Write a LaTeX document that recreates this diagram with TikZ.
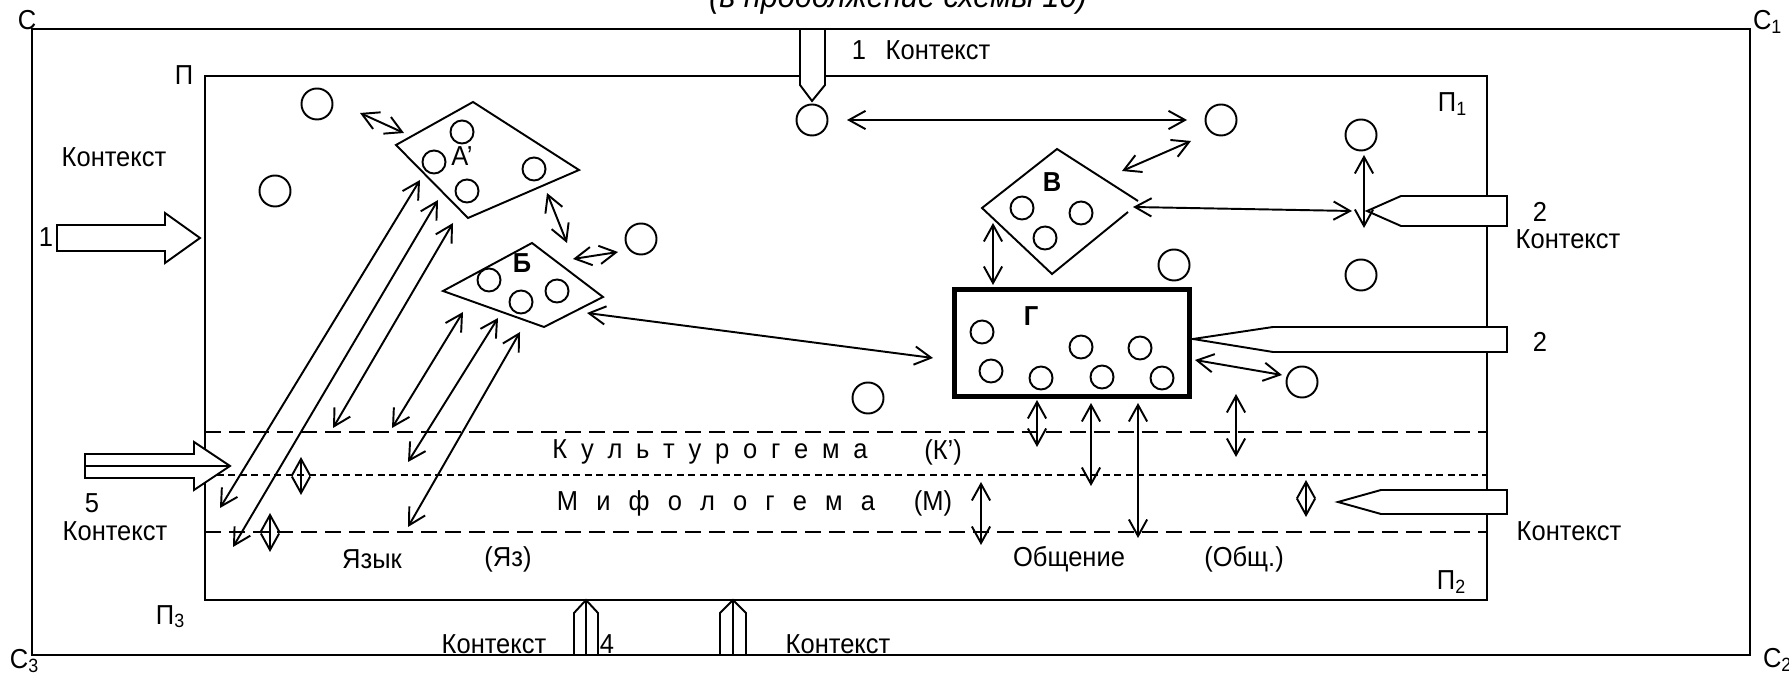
\documentclass[tikz,border=0pt]{standalone}
\usepackage{fontspec}
\setmainfont{Liberation Sans}[FakeStretch=0.93]
\usetikzlibrary{arrows.meta}

\tikzset{
  ring/.style={draw, circle, minimum size=0.31cm, inner sep=0pt},
  ringsm/.style={draw, circle, minimum size=0.23cm, inner sep=0pt},
  hollow/.style={draw, fill=white},
  lbl/.style={inner sep=0pt, font=\fontsize{7.8}{9.4}\selectfont},
  stratum/.style={dash pattern=on 0.16cm off 0.08cm},
  stratumsm/.style={dash pattern=on 0.07cm off 0.045cm},
}

\begin{document}
\begin{tikzpicture}[x=0.01cm, y=-0.01cm, line width=0.55pt,
  >={Straight Barb[length=4.7pt,width=5.2pt]}]
\useasboundingbox (0,0) rectangle (1789,674);

\node[lbl, font=\fontsize{9.4}{11}\selectfont\itshape, anchor=base] (title) at (898,8) {(в продолжение схемы 10)};

% frames С and П
\draw (32,29) rectangle (1750,655);
\draw (205,76) rectangle (1487,600);
\node[lbl, anchor=base west] (s0) at (17,30) {С};
\node[lbl, anchor=base west] (s1) at (1752,30) {С\textsubscript{1}};
\node[lbl, anchor=base west] (s2) at (1762,668) {С\textsubscript{2}};
\node[lbl, anchor=base west] (s3) at (9,669) {С\textsubscript{3}};
\node[lbl, anchor=base west] (p0) at (174,85) {П};
\node[lbl, anchor=base west] (p1) at (1437,112) {П\textsubscript{1}};
\node[lbl, anchor=base west] (p2) at (1436,590) {П\textsubscript{2}};
\node[lbl, anchor=base west] (p3) at (155,624) {П\textsubscript{3}};

% strata
\draw[stratum] (205,432) -- (1487,432);
\draw[stratumsm] (205,475) -- (1487,475);
\draw[stratum] (205,532) -- (1487,532);
\node[lbl] (kult) at (710,452) {\makebox[3.15cm][s]{К\hfill у\hfill л\hfill ь\hfill т\hfill у\hfill р\hfill о\hfill г\hfill е\hfill м\hfill а}};
\node[lbl] (kultk) at (943,452) {(К’)};
\node[lbl] (mif) at (716,503) {\makebox[3.18cm][s]{М\hfill и\hfill ф\hfill о\hfill л\hfill о\hfill г\hfill е\hfill м\hfill а}};
\node[lbl] (mifm) at (933,503) {(М)};
\node[lbl] (yaz) at (372,559) {Язык};
\node[lbl] (yazk) at (508,559) {(Яз)};
\node[lbl] (obsh) at (1069,559) {Общение};
\node[lbl] (obshk) at (1244,559) {(Общ.)};

% context arrows
\draw[hollow] (57,225) -- (165,225) -- (165,213) -- (200,238) -- (165,263) -- (165,251) -- (57,251) -- cycle;
\draw[hollow] (85,454) -- (194,454) -- (194,442) -- (230,466) -- (194,490) -- (194,478) -- (85,478) -- cycle;
\draw (85,466) -- (230,466);
\draw[hollow] (800,29) -- (800,85) -- (812,101) -- (825,85) -- (825,29) -- cycle;
\draw[hollow] (1507,196) -- (1401,196) -- (1367,211) -- (1401,226) -- (1507,226) -- cycle;
\draw[hollow] (1507,327) -- (1273,327) -- (1193,339) -- (1273,352) -- (1507,352) -- cycle;
\draw[hollow] (1507,490) -- (1381,490) -- (1338,502) -- (1381,514) -- (1507,514) -- cycle;
\draw[hollow] (574,655) -- (574,613) -- (586,600) -- (598,613) -- (598,655) -- cycle;
\draw (586,655) -- (586,600);
\draw[hollow] (720,655) -- (720,613) -- (733,600) -- (746,613) -- (746,655) -- cycle;
\draw (733,655) -- (733,600);

\node[lbl] (k1) at (114,157) {Контекст};
\node[lbl] (n1) at (46,237) {1};
\node[lbl] (n5) at (92,503) {5};
\node[lbl] (k5) at (115,531) {Контекст};
\node[lbl] (n1t) at (859,50) {1};
\node[lbl] (k1t) at (938,50) {Контекст};
\node[lbl] (n2) at (1540,212) {2};
\node[lbl] (k2) at (1568,239) {Контекст};
\node[lbl] (n2b) at (1540,342) {2};
\node[lbl] (k3) at (1569,531) {Контекст};
\node[lbl] (k4) at (494,644) {Контекст};
\node[lbl] (n4) at (607,644) {4};
\node[lbl] (k4b) at (838,644) {Контекст};

% groups
\draw (396,145) -- (473,102) -- (579,170) -- (468,218) -- cycle;
\draw (443,291) -- (532,243) -- (603,297) -- (544,327) -- cycle;
\draw (1138,201) -- (1057,149) -- (982,208) -- (1052,274) -- (1128,212);
\node[draw, line width=1.4pt, minimum width=2.35cm, minimum height=1.07cm, inner sep=0pt] (gam) at (1072,343) {};
\node[lbl] (la) at (462,156) {А’};
\node[lbl, font=\fontsize{7.8}{9.4}\selectfont\bfseries] (lb) at (522,263) {Б};
\node[lbl, font=\fontsize{7.8}{9.4}\selectfont\bfseries] (lv) at (1052,182) {В};
\node[lbl, font=\fontsize{7.8}{9.4}\selectfont\bfseries] (lg) at (1031,316) {Г};

\foreach \n/\x/\y in {c1/317/104, c2/275/191, c3/812/120, c4/1221/120, c5/1361/135,
  c6/641/239, c7/1174/265, c8/1361/275, c9/868/398, c10/1302/382}
  \node[ring] (\n) at (\x,\y) {};
\foreach \n/\x/\y in {a1/462/132, a2/434/162, a3/467/191, a4/534/169,
  b1/489/280, b2/521/302, b3/557/291, v1/1022/208, v2/1081/213, v3/1045/238,
  g1/982/332, g2/1081/347, g3/1140/348, g4/991/371, g5/1041/378, g6/1102/377, g7/1162/378}
  \node[ringsm] (\n) at (\x,\y) {};

% links
\foreach \n/\x/\y in {e1/360/113, f1/404/133, e2/547/193, f2/567/243, e3/573/259, f3/618/252,
  e4/587/313, f4/933/358, e5/847/120, f5/1187/120, e6/1122/171, f6/1191/141,
  e7/1133/207, f7/1352/211, e8/1364/155, f8/1364/228, e9/993/223, f9/993/285,
  e10/1195/360, f10/1282/375, e11/1037/400, f11/1037/447, e12/1091/403, f12/1091/486,
  e13/1138/403, f13/1138/538, e14/981/482, f14/981/545, e15/1236/394, f15/1236/457,
  e16/1306/480, f16/1306/517, e17/420/180, f17/220/508, e18/438/200, f18/233/547,
  e19/453/223, f19/333/428, e20/463/312, f20/392/428, e21/498/318, f21/408/462,
  e22/520/332, f22/408/527, e23/301/457, f23/301/495, e24/270/513, f24/270/552}
  \coordinate (\n) at (\x,\y);
\foreach \i in {1,...,24}
  \draw[<->] (e\i) -- (f\i);
\end{tikzpicture}
\end{document}
